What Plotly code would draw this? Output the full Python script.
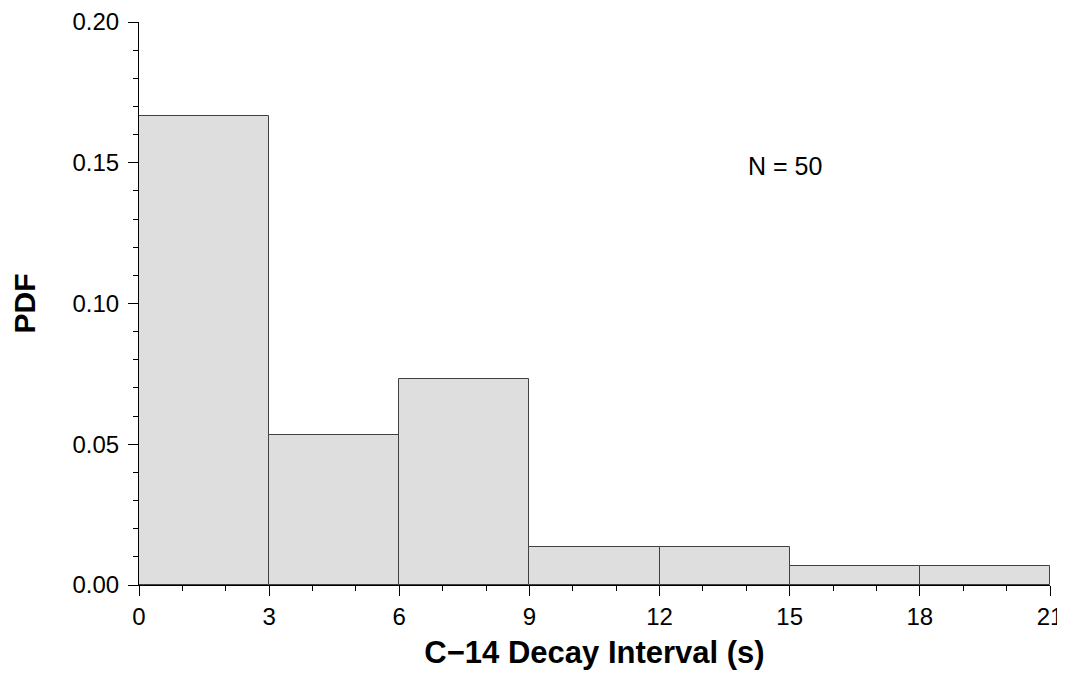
import plotly.graph_objects as go

bin_left = [0, 3, 6, 9, 12, 15, 18]
bin_width = 3
counts = [25, 8, 11, 2, 2, 1, 1]
N = sum(counts)
pdf = [c / (N * bin_width) for c in counts]
x_ticks = [0, 3, 6, 9, 12, 15, 18, 21]
y_ticks = [0.00, 0.05, 0.10, 0.15, 0.20]

centers = [b + bin_width / 2 for b in bin_left]

fig = go.Figure()
fig.add_trace(go.Bar(
    x=centers, y=pdf, width=[bin_width] * len(centers),
    marker=dict(color="#dedede", line=dict(color="#404040", width=1)),
    showlegend=False,
))

font = "Liberation Sans, Arial, sans-serif"
fig.update_layout(
    width=1057, height=662, autosize=False,
    margin=dict(l=131, r=15, t=14, b=85),
    plot_bgcolor="white", paper_bgcolor="white",
    font=dict(family=font, size=24, color="black"),
    bargap=0,
    xaxis=dict(
        range=[0, 21], tickvals=x_ticks, ticktext=[str(v) for v in x_ticks],
        showgrid=False, zeroline=False, showline=True, linecolor="black", linewidth=1,
        ticks="outside", ticklen=10, tickcolor="black", tickwidth=1,
        minor=dict(dtick=1, ticks="outside", ticklen=5, tickcolor="black", tickwidth=1, showgrid=False),
        tickfont=dict(size=24), ticklabeloverflow="allow", automargin=False,
        title=dict(text="<b>C\u221214 Decay Interval (s)</b>", font=dict(size=31), standoff=22),
    ),
    yaxis=dict(
        range=[0, 0.2], tickvals=y_ticks, ticktext=[f"{v:.2f}" for v in y_ticks],
        showgrid=False, zeroline=False, showline=True, linecolor="black", linewidth=1,
        ticks="outside", ticklen=10, tickcolor="black", tickwidth=1, ticklabelstandoff=4,
        minor=dict(dtick=0.01, ticks="outside", ticklen=5, tickcolor="black", tickwidth=1, showgrid=False),
        tickfont=dict(size=24), ticklabeloverflow="allow", automargin=False,
        title=dict(text="<b>PDF</b>", font=dict(size=30), standoff=30),
    ),
    annotations=[dict(x=14.9, y=0.149, xref="x", yref="y", text=f"N = {N}",
                      showarrow=False, font=dict(size=25))],
)

fig.write_html("out.html")
